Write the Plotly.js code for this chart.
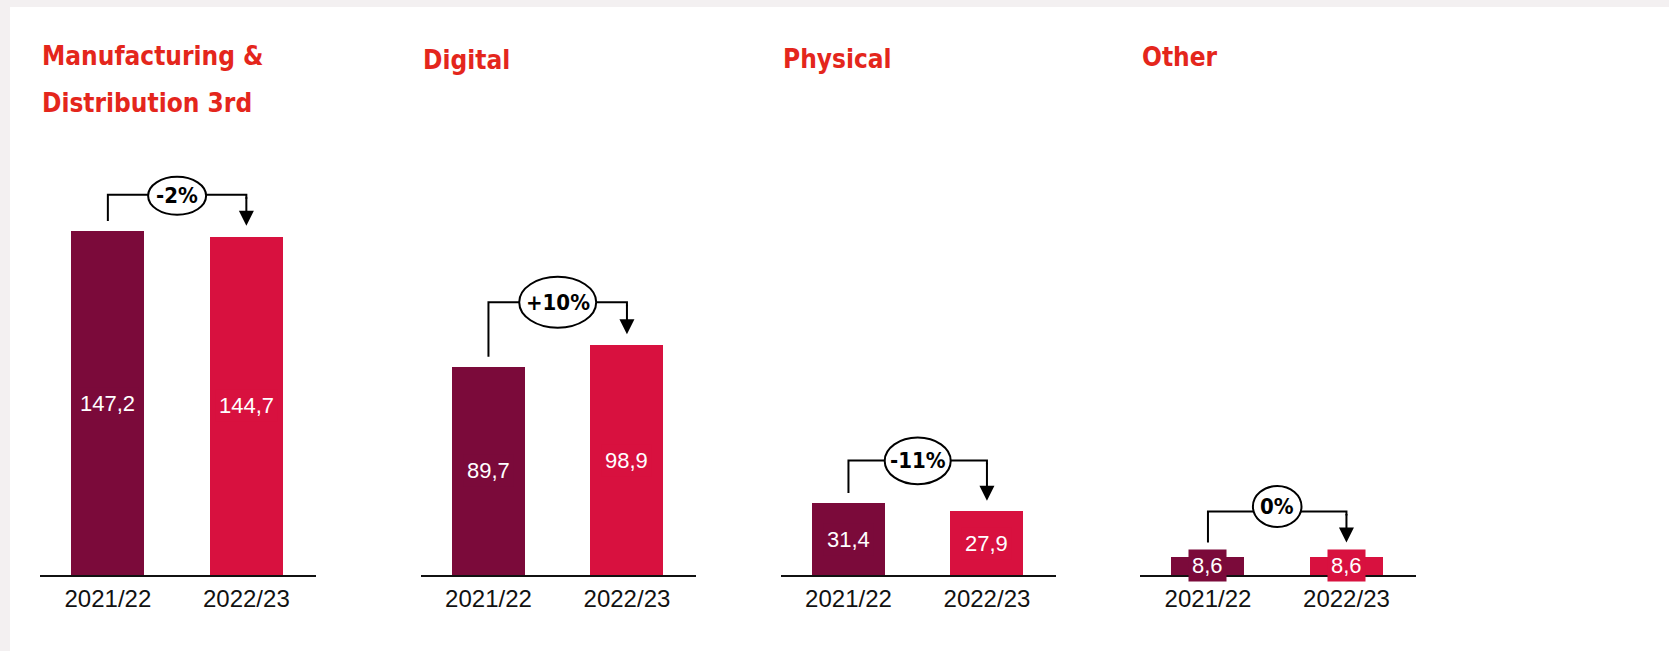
<!DOCTYPE html>
<html>
<head>
<meta charset="utf-8">
<script src="https://cdn.plot.ly/plotly-3.0.1.min.js"></script>
<style>
  html, body { margin: 0; padding: 0; background: #ffffff; }
  #chart { width: 1669px; height: 651px; }
</style>
</head>
<body>
<div id="chart"></div>
<script>
// ---------------- DATA ----------------
const segments = ['Manufacturing &<br>Distribution 3rd', 'Digital', 'Physical', 'Other'];
const years = ['2021/22', '2022/23'];
const values2021 = [147.2, 89.7, 31.4, 8.6];
const values2022 = [144.7, 98.9, 27.9, 8.6];
const changeLabels = ['-2%', '+10%', '-11%', '0%'];

// ---------------- STYLE ----------------
const W = 1669, H = 651;
const colOld = '#7b0a3a';
const colNew = '#d8113f';
const titleRed = '#e4261c';
const condensed = '"Liberation Sans Narrow", "DejaVu Sans Condensed", "Arial Narrow", sans-serif';
const sans = '"Liberation Sans", Arial, Helvetica, sans-serif';

const panelStartPx = [40, 420.6, 780.6, 1140.1];
const panelWidthPx = 275.6;
const baselinePx = 575;       // from top
const plotTopPx = 160;        // from top
const pxPerUnit = [2.337, 2.323, 2.28, 2.15];
const leftGapPx = [10, 10, 10.5, 14];
const riseAboveNewPx = [42, 43, 51, 45];
const tipGapPx = [11, 11, 10.7, 14];
const ellipseR = [[29, 19], [38.5, 25.5], [33, 23.3], [24.3, 20.5]];
const ellipseDyPx = [1, 0, 0.5, -5];
const titleLineCenterPx = [[56, 102.5], [59.5], [59], [57.5]];
const titleSize = 26;

const fmt = v => v.toFixed(1).replace('.', ',');

const data = [];
const layout = {
  width: W, height: H,
  margin: {l: 0, r: 0, t: 0, b: 0, pad: 0},
  paper_bgcolor: '#ffffff',
  plot_bgcolor: 'rgba(0,0,0,0)',
  showlegend: false,
  bargap: 0,
  shapes: [
    {type: 'rect', xref: 'paper', yref: 'paper', x0: 0, x1: 1, y0: 1 - 7 / H, y1: 1,
     fillcolor: '#f3f0f1', line: {width: 0}, layer: 'below'},
    {type: 'rect', xref: 'paper', yref: 'paper', x0: 0, x1: 10 / W, y0: 0, y1: 1,
     fillcolor: '#f3f0f1', line: {width: 0}, layer: 'below'}
  ],
  annotations: []
};

const yDomain = [(H - baselinePx) / H, (H - plotTopPx) / H];
const plotHeightPx = baselinePx - plotTopPx;

segments.forEach((seg, i) => {
  const n = i + 1;
  const xa = 'x' + (n === 1 ? '' : n);
  const ya = 'y' + (n === 1 ? '' : n);
  const xKey = 'xaxis' + (n === 1 ? '' : n);
  const yKey = 'yaxis' + (n === 1 ? '' : n);
  const k = pxPerUnit[i];
  const vals = [values2021[i], values2022[i]];
  const xs = years.map((_, j) => j);

  data.push({
    type: 'bar', x: xs, y: vals, xaxis: xa, yaxis: ya,
    width: 0.527,
    marker: {color: [colOld, colNew], line: {width: 0}},
    hoverinfo: 'skip'
  });

  layout[xKey] = {
    domain: [panelStartPx[i] / W, (panelStartPx[i] + panelWidthPx) / W],
    range: [-0.49, 1.5],
    anchor: ya,
    tickvals: xs, ticktext: years,
    tickfont: {family: sans, size: 24, color: '#111111'},
    ticks: '', ticklabelstandoff: 1,
    showline: true, linecolor: '#111111', linewidth: 2,
    showgrid: false, zeroline: false, fixedrange: true
  };
  layout[yKey] = {
    domain: yDomain,
    range: [0, plotHeightPx / k],
    anchor: xa,
    visible: false, showgrid: false, zeroline: false, fixedrange: true
  };

  // value labels
  vals.forEach((v, j) => {
    layout.annotations.push({
      xref: xa, yref: ya, x: j, y: v / 2,
      text: fmt(v), showarrow: false,
      font: {family: sans, size: 22, color: '#ffffff'},
      bgcolor: j === 0 ? colOld : colNew, borderpad: 3
    });
  });

  // bracket
  const y0 = vals[0] + leftGapPx[i] / k;
  const hY = vals[1] + riseAboveNewPx[i] / k;
  const tip = vals[1] + tipGapPx[i] / k;
  layout.shapes.push({
    type: 'path', xref: xa, yref: ya,
    path: `M0,${y0} L0,${hY} L1,${hY} L1,${hY - 4 / k}`,
    line: {color: '#000000', width: 2}
  });
  layout.annotations.push({
    xref: xa, yref: ya, x: 1, y: tip,
    axref: xa, ayref: ya, ax: 1, ay: hY - 1 / k,
    text: '', showarrow: true, arrowhead: 2, arrowsize: 1.5, arrowwidth: 2,
    arrowcolor: '#000000'
  });
  const eY = hY - ellipseDyPx[i] / k;
  layout.shapes.push({
    type: 'circle', xref: xa, yref: ya,
    xsizemode: 'pixel', ysizemode: 'pixel', xanchor: 0.5, yanchor: eY,
    x0: -ellipseR[i][0], x1: ellipseR[i][0], y0: -ellipseR[i][1], y1: ellipseR[i][1],
    fillcolor: '#ffffff', line: {color: '#000000', width: 2}
  });
  layout.annotations.push({
    xref: xa, yref: ya, x: 0.5, y: eY,
    text: '<b>' + changeLabels[i] + '</b>', showarrow: false,
    font: {family: condensed, size: 22, color: '#000000'}
  });

  // panel title (one annotation per line to control line spacing)
  seg.split('<br>').forEach((line, li) => {
    layout.annotations.push({
      xref: 'paper', yref: 'paper',
      x: panelStartPx[i] / W, y: 1 - titleLineCenterPx[i][li] / H,
      xanchor: 'left', yanchor: 'middle', align: 'left',
      text: '<b>' + line + '</b>', showarrow: false,
      font: {family: condensed, size: titleSize, color: titleRed}
    });
  });
});

Plotly.newPlot('chart', data, layout, {staticPlot: true, displayModeBar: false});
</script>
</body>
</html>
